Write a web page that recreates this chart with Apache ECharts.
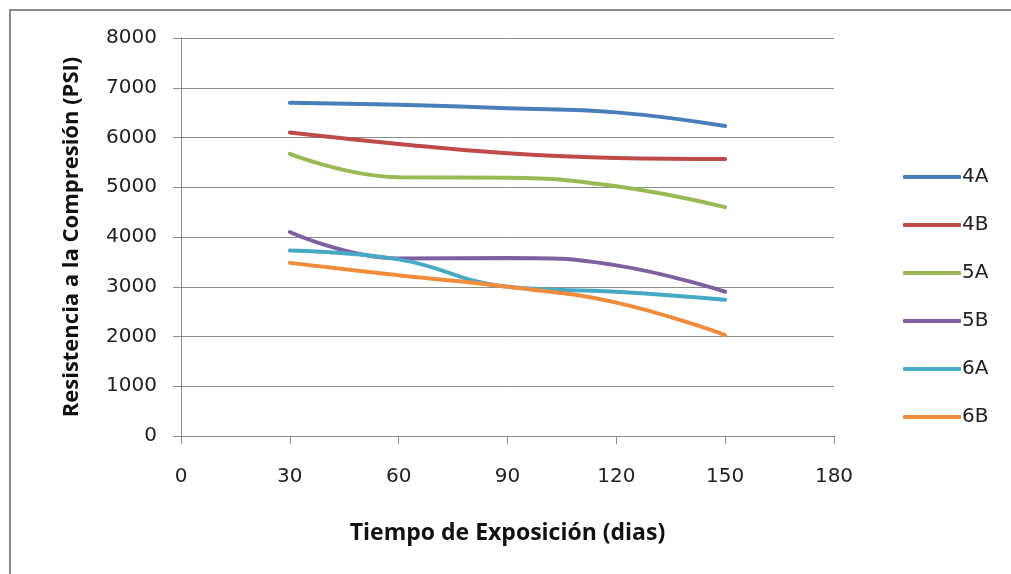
<!DOCTYPE html>
<html>
<head>
<meta charset="utf-8">
<script src="https://cdn.jsdelivr.net/npm/echarts@6/dist/echarts.min.js"></script>
<style>
  html, body { margin: 0; padding: 0; background: #fff; }
  #chart { width: 1011px; height: 574px; }
</style>
</head>
<body>
<div id="chart"></div>
<script>
// Exposure time in days
const days = [30, 60, 90, 120, 150];

// Compressive strength (PSI) per mix
const s4A = [6700, 6660, 6590, 6505, 6230];
const s4B = [6100, 5870, 5685, 5590, 5570];
const s5A = [5670, 5200, 5190, 5020, 4600];
const s5B = [4100, 3570, 3580, 3430, 2900];
const s6A = [3730, 3550, 3000, 2900, 2740];
const s6B = [3480, 3230, 3000, 2680, 2030];

const seriesNames = ['4A', '4B', '5A', '5B', '6A', '6B'];
const seriesValues = [s4A, s4B, s5A, s5B, s6A, s6B];
const colors = ['#4A7EBB', '#BE4B48', '#98B954', '#7D60A0', '#46AAC5', '#F08C3C'];

const xTicks = [0, 30, 60, 90, 120, 150, 180];
const yTicks = [0, 1000, 2000, 3000, 4000, 5000, 6000, 7000, 8000];

const tickFont = 'DejaVu Sans';
const titleFont = 'Open Sans';

const chart = echarts.init(document.getElementById('chart'), null, { renderer: 'canvas' });

chart.setOption({
  animation: false,
  backgroundColor: '#fff',
  color: colors,
  graphic: [{
    type: 'rect',
    shape: { x: 10, y: 10, width: 1100, height: 700 },
    style: { fill: 'none', stroke: '#8a8a8a', lineWidth: 2 },
    silent: true
  }],
  grid: { left: 181, right: 177, top: 38, bottom: 138 },
  legend: {
    orient: 'vertical',
    left: 898,
    top: 162,
    icon: 'roundRect',
    itemWidth: 58,
    itemHeight: 4,
    itemGap: 28,
    textStyle: { fontFamily: tickFont, fontSize: 20, color: '#222', lineHeight: 20, padding: [0, 0, 0, -4] },
    data: seriesNames
  },
  xAxis: {
    type: 'value',
    min: xTicks[0],
    max: xTicks[xTicks.length - 1],
    interval: 30,
    name: 'Tiempo de Exposición (dias)',
    nameLocation: 'middle',
    nameGap: 86,
    nameTextStyle: { fontFamily: titleFont, fontWeight: 'bold', fontSize: 23, color: '#111' },
    axisLine: { show: true, lineStyle: { color: '#8c8c8c', width: 1 } },
    axisTick: { show: true, inside: false, length: 8, lineStyle: { color: '#8c8c8c' } },
    axisLabel: { margin: 31, fontFamily: tickFont, fontSize: 20, color: '#222' },
    splitLine: { show: false }
  },
  yAxis: {
    type: 'value',
    min: yTicks[0],
    max: yTicks[yTicks.length - 1],
    interval: 1000,
    name: 'Resistencia a la Compresión (PSI)',
    nameLocation: 'middle',
    nameGap: 98,
    nameTextStyle: { fontFamily: titleFont, fontWeight: 'bold', fontSize: 22, color: '#111' },
    axisLine: { show: true, lineStyle: { color: '#8c8c8c', width: 1 } },
    axisTick: { show: true, inside: false, length: 8, lineStyle: { color: '#8c8c8c' } },
    axisLabel: { margin: 24, fontFamily: tickFont, fontSize: 20, color: '#222', formatter: v => String(v) },
    splitLine: { show: true, lineStyle: { color: '#8c8c8c', width: 1 } }
  },
  series: seriesNames.map((name, i) => ({
    name: name,
    type: 'line',
    smooth: 0.45,
    showSymbol: false,
    symbol: 'none',
    lineStyle: { width: 4, color: colors[i], cap: 'round' },
    itemStyle: { color: colors[i] },
    data: days.map((d, j) => [d, seriesValues[i][j]])
  }))
});
</script>
</body>
</html>
